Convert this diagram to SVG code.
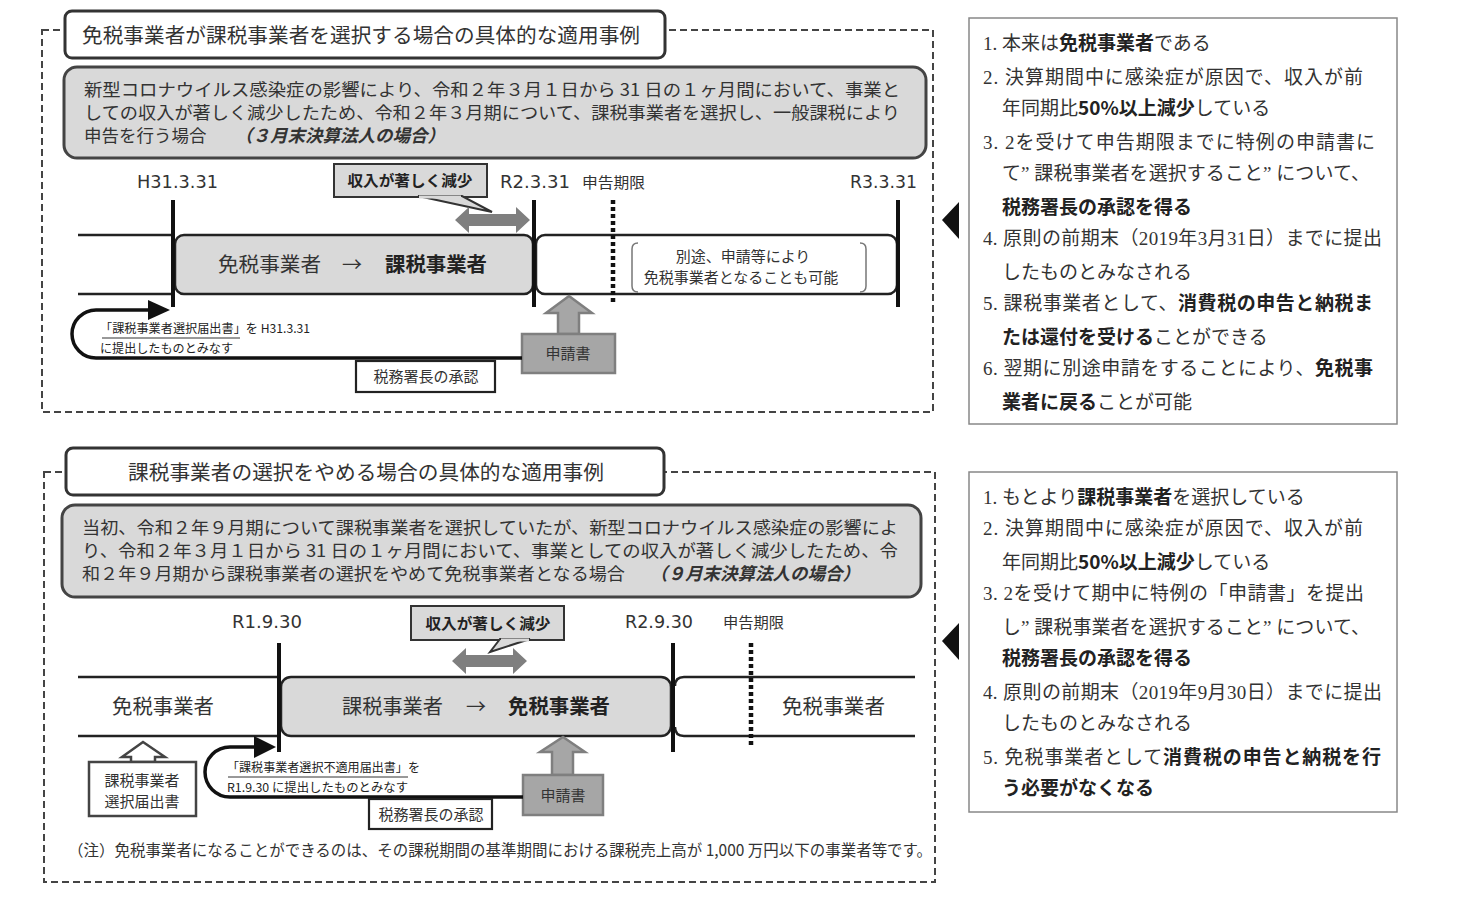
<svg xmlns="http://www.w3.org/2000/svg" width="1458" height="902" viewBox="0 0 1458 902">
<style>
text{font-family:"Noto Sans CJK JP","Liberation Sans",sans-serif;fill:#333}
.dash{fill:none;stroke:#444;stroke-width:2;stroke-dasharray:7,4}
.title{fill:#fff;stroke:#333;stroke-width:3}
.desc{fill:#d9d9d9;stroke:#444;stroke-width:3}
.t20{font-size:20.5px}
.d{font-size:17.5px}
.it{font-style:italic;font-weight:700}
.lbl{font-family:"DejaVu Sans","Noto Sans CJK JP",sans-serif;font-size:17px}
.dl{font-size:15px}
.vl{stroke:#111;stroke-width:4}
.dot{stroke:#111;stroke-width:4.5;stroke-dasharray:4,3}
.band{stroke:#222;stroke-width:2.5;fill:none}
.gray{fill:#d9d9d9;stroke:#222;stroke-width:2.5}
.white{fill:#fff;stroke:#222;stroke-width:2.5}
.big{font-size:20px}
.b{font-weight:700;fill:#222}
.call{fill:#d9d9d9;stroke:#333;stroke-width:2}
.ct{font-size:15px;font-weight:700;fill:#222}
.darr{fill:#7f7f7f}
.app{fill:#a6a6a6;stroke:#7f7f7f;stroke-width:2.5}
.hol{fill:#fff;stroke:#444;stroke-width:2.5}
.loop{fill:none;stroke:#111;stroke-width:3.5}
.sm{font-size:12px;fill:#222}
.ul{stroke:#333;stroke-width:1}
.ap{fill:#fff;stroke:#222;stroke-width:2.2}
.apt{font-size:15px}
.brk{fill:none;stroke:#777;stroke-width:1.5}
.rbox{fill:#fff;stroke:#888;stroke-width:1.5}
.r{font-family:"Liberation Serif","Noto Sans CJK JP",serif;font-size:19px;fill:#333}
.rb{font-family:"Noto Sans CJK JP","Liberation Sans",sans-serif;font-weight:700;fill:#222}
.tri{fill:#111}
</style>

<!-- ===== TOP SECTION ===== -->
<g id="top-frame">
  <rect class="dash" x="42" y="30" width="891" height="382"/>
</g>
<g id="top-title">
  <rect class="title" x="65" y="11" width="600" height="47" rx="7"/>
  <text class="t20" x="82" y="43" textLength="558" lengthAdjust="spacingAndGlyphs">免税事業者が課税事業者を選択する場合の具体的な適用事例</text>
</g>
<g id="top-desc">
  <rect class="desc" x="64" y="67" width="862" height="91" rx="13"/>
  <text class="d" x="84" y="96" textLength="816" lengthAdjust="spacingAndGlyphs">新型コロナウイルス感染症の影響により、令和２年３月１日から 31 日の１ヶ月間において、事業と</text>
  <text class="d" x="84" y="119" textLength="816" lengthAdjust="spacingAndGlyphs">しての収入が著しく減少したため、令和２年３月期について、課税事業者を選択し、一般課税により</text>
  <text class="d" x="84" y="142">申告を行う場合<tspan class="it" x="235">（３月末決算法人の場合）</tspan></text>
</g>

<g id="top-labels">
  <text class="lbl" x="137" y="188" textLength="81" lengthAdjust="spacingAndGlyphs">H31.3.31</text>
  <text class="lbl" x="500" y="188" textLength="70" lengthAdjust="spacingAndGlyphs">R2.3.31</text>
  <text class="dl" x="582" y="188" textLength="63" lengthAdjust="spacingAndGlyphs">申告期限</text>
  <text class="lbl" x="850" y="188" textLength="67" lengthAdjust="spacingAndGlyphs">R3.3.31</text>
</g>

<g id="top-band">
  <line class="band" x1="78" y1="235" x2="174" y2="235"/>
  <line class="band" x1="78" y1="294" x2="174" y2="294"/>
  <rect class="gray" x="175" y="235" width="358" height="59" rx="9"/>
  <rect class="white" x="536" y="235" width="361" height="59" rx="9"/>
  <text class="big" x="218" y="272" textLength="103" lengthAdjust="spacingAndGlyphs">免税事業者</text>
  <text class="big" x="342" y="272">→</text>
  <text class="big b" x="385" y="272" textLength="102" lengthAdjust="spacingAndGlyphs">課税事業者</text>
  <path class="brk" d="M638,243 Q632,243 632,249 V286 Q632,292 638,292"/>
  <path class="brk" d="M860,243 Q866,243 866,249 V286 Q866,292 860,292"/>
  <text class="dl" x="743" y="262" text-anchor="middle" font-size="14.5">別途、申請等により</text>
  <text class="dl" x="741" y="283" text-anchor="middle" font-size="14.5">免税事業者となることも可能</text>
</g>

<g id="top-vlines">
  <line class="vl" x1="173" y1="200" x2="173" y2="307"/>
  <line class="vl" x1="534" y1="200" x2="534" y2="307"/>
  <line class="vl" x1="898" y1="200" x2="898" y2="307"/>
  <line class="dot" x1="613" y1="200" x2="613" y2="305"/>
</g>

<g id="top-callout">
  <rect class="call" x="334" y="164" width="153" height="33"/>
  <polygon class="call" points="418,196 492,212 462,196"/>
  <line x1="419" y1="197" x2="461" y2="197" stroke="#d9d9d9" stroke-width="3"/>
  <text class="ct" x="410" y="186" text-anchor="middle" textLength="125" lengthAdjust="spacingAndGlyphs">収入が著しく減少</text>
  <polygon class="darr" points="455,220 469,207 469,214 516,214 516,207 530,220 516,233 516,226 469,226 469,233"/>
</g>

<g id="top-application">
  <polygon class="app" points="569,296 592,313 579,313 579,334 558,334 558,313 546,313"/>
  <rect class="app" x="522" y="334" width="93" height="39"/>
  <text class="apt" x="568" y="359" text-anchor="middle">申請書</text>
</g>

<g id="top-connectors">
  <path class="loop" d="M522,358 H96 A24,24 0 0 1 96,310 H150"/>
  <polygon fill="#111" points="148,300 170,310 148,320"/>
</g>
<g id="top-note">
  <text class="sm" x="100" y="333" textLength="210" lengthAdjust="spacingAndGlyphs">「課税事業者選択届出書」を H31.3.31</text>
  <line class="ul" x1="102" y1="338" x2="240" y2="338"/>
  <text class="sm" x="100" y="353" textLength="133" lengthAdjust="spacingAndGlyphs">に提出したものとみなす</text>
</g>
<g id="top-approval">
  <rect class="ap" x="356" y="361" width="139" height="31"/>
  <text class="apt" x="426" y="382" text-anchor="middle">税務署長の承認</text>
</g>

<!-- right triangles -->
<g id="top-pointer">
  <polygon class="tri" points="959,202 942,220 959,239"/>
</g>
<g id="bottom-pointer">
  <polygon class="tri" points="959,623 942,641 959,660"/>
</g>

<!-- right box 1 -->
<g id="top-right-box">
  <rect class="rbox" x="969" y="18" width="428" height="406"/>
  <text class="r" x="983" y="50">1. 本来は<tspan class="rb">免税事業者</tspan>である</text>
  <text class="r" x="983" y="84" textLength="380" lengthAdjust="spacing">2. 決算期間中に感染症が原因で、収入が前</text>
  <text class="r" x="1002" y="115">年同期比<tspan class="rb">50%以上減少</tspan>している</text>
  <text class="r" x="983" y="149" textLength="392" lengthAdjust="spacing">3. 2を受けて申告期限までに特例の申請書に</text>
  <text class="r" x="1002" y="180" textLength="368" lengthAdjust="spacing">て” 課税事業者を選択すること” について、</text>
  <text class="r" x="1002" y="214"><tspan class="rb">税務署長の承認を得る</tspan></text>
  <text class="r" x="983" y="245" textLength="399" lengthAdjust="spacing">4. 原則の前期末（2019年3月31日）までに提出</text>
  <text class="r" x="1002" y="279">したものとみなされる</text>
  <text class="r" x="983" y="310" textLength="390" lengthAdjust="spacing">5. 課税事業者として、<tspan class="rb">消費税の申告と納税ま</tspan></text>
  <text class="r" x="1002" y="344"><tspan class="rb">たは還付を受ける</tspan>ことができる</text>
  <text class="r" x="983" y="375" textLength="390" lengthAdjust="spacing">6. 翌期に別途申請をすることにより、<tspan class="rb">免税事</tspan></text>
  <text class="r" x="1002" y="409"><tspan class="rb">業者に戻る</tspan>ことが可能</text>
</g>

<!-- ===== BOTTOM SECTION ===== -->
<g id="bottom-frame">
  <rect class="dash" x="44" y="472" width="891" height="410"/>
</g>
<g id="bottom-title">
  <rect class="title" x="66" y="448" width="598" height="47" rx="7"/>
  <text class="t20" x="128" y="480" textLength="476" lengthAdjust="spacingAndGlyphs">課税事業者の選択をやめる場合の具体的な適用事例</text>
</g>
<g id="bottom-desc">
  <rect class="desc" x="62" y="505" width="859" height="92" rx="13"/>
  <text class="d" x="82" y="534" textLength="816" lengthAdjust="spacingAndGlyphs">当初、令和２年９月期について課税事業者を選択していたが、新型コロナウイルス感染症の影響によ</text>
  <text class="d" x="82" y="557" textLength="816" lengthAdjust="spacingAndGlyphs">り、令和２年３月１日から 31 日の１ヶ月間において、事業としての収入が著しく減少したため、令</text>
  <text class="d" x="82" y="580"><tspan textLength="543" lengthAdjust="spacingAndGlyphs">和２年９月期から課税事業者の選択をやめて免税事業者となる場合</tspan><tspan class="it" x="650">（９月末決算法人の場合）</tspan></text>
</g>

<g id="bottom-labels">
  <text class="lbl" x="232" y="628" textLength="70" lengthAdjust="spacingAndGlyphs">R1.9.30</text>
  <text class="lbl" x="625" y="628" textLength="68" lengthAdjust="spacingAndGlyphs">R2.9.30</text>
  <text class="dl" x="723" y="628" textLength="61" lengthAdjust="spacingAndGlyphs">申告期限</text>
</g>

<g id="bottom-band">
  <line class="band" x1="78" y1="677" x2="279" y2="677"/>
  <line class="band" x1="78" y1="736" x2="279" y2="736"/>
  <rect class="gray" x="281" y="677" width="390" height="59" rx="10"/>
  <path class="band" d="M915,677 H684 Q675,677 675,686 M915,736 H684 Q675,736 675,727"/>
  <text class="big" x="112" y="714" textLength="102" lengthAdjust="spacingAndGlyphs">免税事業者</text>
  <text class="big" x="342" y="714" textLength="101" lengthAdjust="spacingAndGlyphs">課税事業者</text>
  <text class="big" x="466" y="714">→</text>
  <text class="big b" x="508" y="714" textLength="102" lengthAdjust="spacingAndGlyphs">免税事業者</text>
  <text class="big" x="782" y="714" textLength="103" lengthAdjust="spacingAndGlyphs">免税事業者</text>
</g>

<g id="bottom-vlines">
  <line class="vl" x1="279" y1="643" x2="279" y2="752"/>
  <line class="vl" x1="673" y1="643" x2="673" y2="752"/>
  <line class="dot" x1="751" y1="643" x2="751" y2="746"/>
</g>

<g id="bottom-callout">
  <rect class="call" x="411" y="606" width="153" height="34"/>
  <polygon class="call" points="500,639 490,652 530,639"/>
  <line x1="501" y1="640" x2="529" y2="640" stroke="#d9d9d9" stroke-width="3"/>
  <text class="ct" x="488" y="629" text-anchor="middle" textLength="125" lengthAdjust="spacingAndGlyphs">収入が著しく減少</text>
  <polygon class="darr" points="452,661 466,648 466,655 513,655 513,648 527,661 513,674 513,667 466,667 466,674"/>
</g>

<g id="bottom-notification">
  <polygon class="hol" points="143,742 165,757 155,757 155,762 131,762 131,757 122,757"/>
  <rect class="hol" x="89" y="762" width="107" height="54"/>
  <text class="apt" x="142" y="786" text-anchor="middle">課税事業者</text>
  <text class="apt" x="142" y="807" text-anchor="middle">選択届出書</text>
</g>

<g id="bottom-application">
  <polygon class="app" points="563,737 585,752 573,752 573,775 552,775 552,752 540,752"/>
  <rect class="app" x="523" y="775" width="80" height="40"/>
  <text class="apt" x="563" y="801" text-anchor="middle">申請書</text>
</g>

<g id="bottom-connectors">
  <path class="loop" d="M523,797 H230 A25,25 0 0 1 230,747 H256"/>
  <polygon fill="#111" points="254,736 276,747 254,758"/>
</g>
<g id="bottom-note">
  <text class="sm" x="227" y="772" textLength="193" lengthAdjust="spacingAndGlyphs">「課税事業者選択不適用届出書」を</text>
  <line class="ul" x1="228" y1="777" x2="408" y2="777"/>
  <text class="sm" x="227" y="792" textLength="181" lengthAdjust="spacingAndGlyphs">R1.9.30 に提出したものとみなす</text>
</g>
<g id="bottom-approval">
  <rect class="ap" x="369" y="799" width="123" height="30"/>
  <text class="apt" x="431" y="820" text-anchor="middle">税務署長の承認</text>
</g>

<g id="footnote">
  <text x="68" y="856" font-size="15.5" textLength="864" lengthAdjust="spacingAndGlyphs">（注）免税事業者になることができるのは、その課税期間の基準期間における課税売上高が 1,000 万円以下の事業者等です。</text>
</g>

<!-- right box 2 -->
<g id="bottom-right-box">
  <rect class="rbox" x="969" y="472" width="428" height="340"/>
  <text class="r" x="983" y="504">1. もとより<tspan class="rb">課税事業者</tspan>を選択している</text>
  <text class="r" x="983" y="535" textLength="380" lengthAdjust="spacing">2. 決算期間中に感染症が原因で、収入が前</text>
  <text class="r" x="1002" y="569">年同期比<tspan class="rb">50%以上減少</tspan>している</text>
  <text class="r" x="983" y="600" textLength="381" lengthAdjust="spacing">3. 2を受けて期中に特例の「申請書」を提出</text>
  <text class="r" x="1002" y="634" textLength="368" lengthAdjust="spacing">し” 課税事業者を選択すること” について、</text>
  <text class="r" x="1002" y="665"><tspan class="rb">税務署長の承認を得る</tspan></text>
  <text class="r" x="983" y="699" textLength="399" lengthAdjust="spacing">4. 原則の前期末（2019年9月30日）までに提出</text>
  <text class="r" x="1002" y="730">したものとみなされる</text>
  <text class="r" x="983" y="764" textLength="398" lengthAdjust="spacing">5. 免税事業者として<tspan class="rb">消費税の申告と納税を行</tspan></text>
  <text class="r" x="1002" y="795"><tspan class="rb">う必要がなくなる</tspan></text>
</g>
</svg>
